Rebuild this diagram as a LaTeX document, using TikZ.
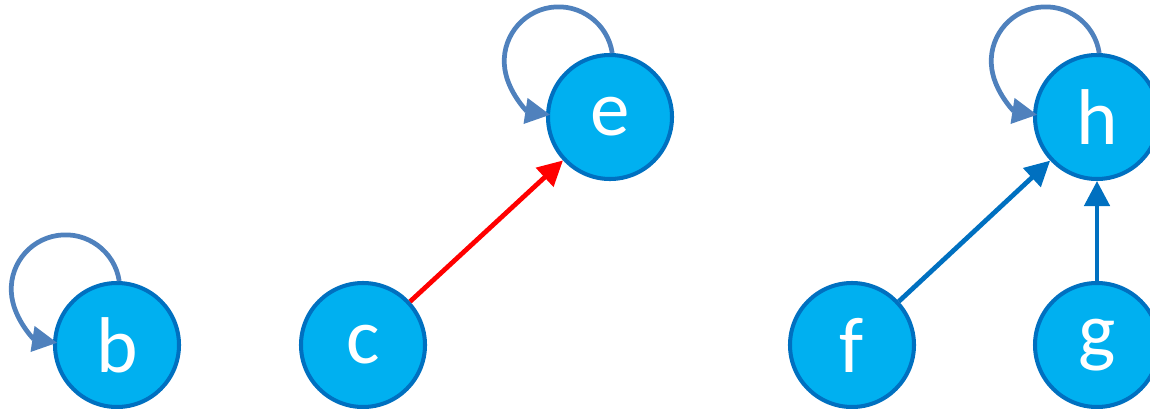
\documentclass[tikz,border=0pt]{standalone}
\usepackage{fontspec}
\setmainfont{Carlito}
\usetikzlibrary{arrows.meta}
\definecolor{nodefill}{HTML}{00B0F0}
\definecolor{nodeline}{HTML}{0070C0}
\definecolor{loopline}{HTML}{4F81BD}
\begin{document}
\begin{tikzpicture}[
    vertex/.style={circle, draw=nodeline, fill=nodefill, line width=2.3pt,
        minimum size=2.48cm, inner sep=0pt, text=white,
        font=\fontsize{45}{54}\selectfont},
    arc/.style={line width=2.7pt, -{Triangle[length=0.5cm, width=0.5cm]}},
    selfloop/.style={arc, draw=loopline},
]
    \useasboundingbox (0,0) rectangle (23,8.16);
    % vertices
    \node[vertex] (b) at (2.34,1.26) {b};
    \node[vertex] (c) at (7.26,1.26) {c};
    \node[vertex] (e) at (12.2,5.82) {e};
    \node[vertex] (f) at (17.04,1.26) {f};
    \node[vertex] (g) at (21.94,1.26) {g};
    \node[vertex] (h) at (21.94,5.82) {h};
    % self loops, top of the circle round to its left side
    \foreach \v in {b,e,h}
        \draw[selfloop] (\v.88) arc[start angle=8.6, end angle=261.2, radius=1.086cm];
    % edges
    \draw[arc, red] (c) -- (e);
    \draw[arc, nodeline] (f) -- (h);
    \draw[arc, nodeline] (g) -- (h);
\end{tikzpicture}
\end{document}
